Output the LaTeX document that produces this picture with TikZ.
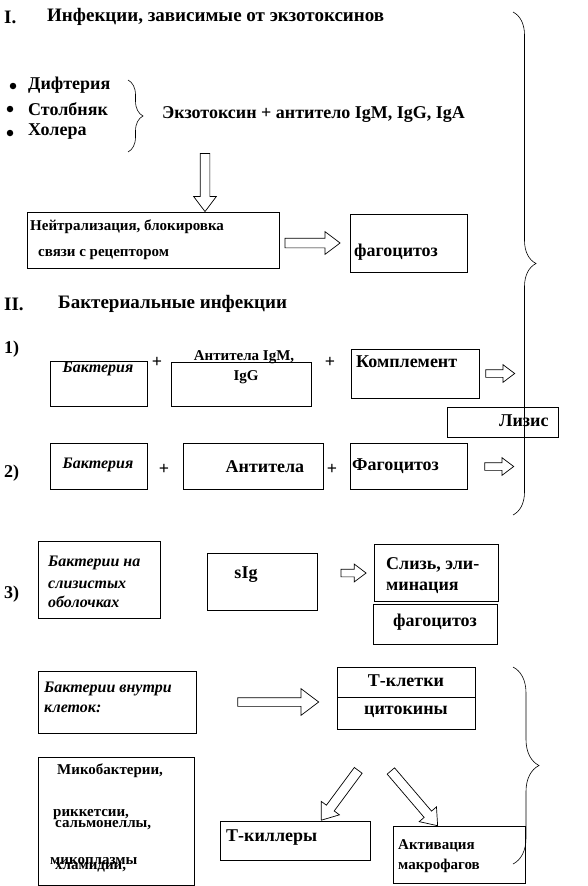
\documentclass[tikz,border=0pt]{standalone}
\usepackage{fontspec}
\setmainfont{Liberation Serif}
\usetikzlibrary{shapes.arrows,decorations.pathreplacing}
\begin{document}
\begin{tikzpicture}[
x=1pt, y=-1pt,
box/.style={draw, line width=0.7pt, inner sep=0pt},
hd/.style={inner sep=0pt, anchor=west, font=\fontsize{19}{21}\selectfont\bfseries},
lbl/.style={inner sep=0pt, anchor=west, font=\fontsize{18}{20}\selectfont\bfseries},
sml/.style={inner sep=0pt, anchor=west, font=\fontsize{15}{17}\selectfont\bfseries},
itl/.style={inner sep=0pt, anchor=west, font=\fontsize{16}{18}\selectfont\bfseries\itshape},
dot/.style={circle, fill, inner sep=0pt, minimum size=6.5pt},
harrow/.style={single arrow, draw, fill=white, line width=0.7pt,
  inner xsep=0pt, inner ysep=4.5pt, single arrow head extend=6.5pt,
  single arrow tip angle=74, minimum height=#1},
thin/.style={inner ysep=3.5pt, single arrow head extend=5pt},
curly/.style={decorate, decoration={brace, amplitude=#1}, line width=0.6pt}
]
\useasboundingbox (0,0) rectangle (588,886);

\node[hd] (n1) at (4,17) {I.};
\node[hd] (h1) at (47,17) {Инфекции, зависимые от экзотоксинов};

\node[dot] (d1) at (13,86) {};
\node[dot] (d2) at (10,109) {};
\node[dot] (d3) at (10,133) {};
\node[lbl] (dif) at (28,85) {Дифтерия};
\node[lbl] (tet) at (28,109) {Столбняк};
\node[lbl] (chol) at (28,132) {Холера};
\coordinate (bs1) at (128,80);
\coordinate (be1) at (128,152);
\draw[curly=15pt] (bs1) -- (be1);
\node[lbl] (exo) at (162,115) {Экзотоксин + антитело IgM, IgG, IgA};

\node[box, minimum width=252pt, minimum height=56pt] (neut) at (153,240.5) {};
\node[sml] (neut1) at (30,227) {Нейтрализация, блокировка};
\node[sml] (neut2) at (38,255) {связи с рецептором};
\node[box, minimum width=117pt, minimum height=58pt] (phag1) at (408.5,243) {};
\node[lbl] (phag1t) at (354,252) {фагоцитоз};
\node[harrow=58pt, rotate=-90, anchor=tip] (a1) at ([xshift=52pt]neut.north) {};
\node[harrow=55pt, anchor=tip] (a2) at ([xshift=-9pt]phag1.west) {};

\node[hd] (n2) at (4,304) {II.};
\node[hd] (h2) at (58,304) {Бактериальные инфекции};

\node[lbl] (r1) at (4,349) {1)};
\node[box, minimum width=97pt, minimum height=45pt] (bac1) at (98.5,383.5) {};
\node[itl, anchor=center] (bac1t) at (98,369) {Бактерия};
\node[lbl, anchor=center] (p1) at (157,362) {+};
\node[box, minimum width=140pt, minimum height=44pt] (ab1) at (241,384) {};
\node[sml, anchor=center] (ab1t) at (244,357) {Антитела IgM,};
\node[sml, anchor=center] (ab1g) at (246,377) {IgG};
\node[lbl, anchor=center] (p2) at (330,362) {+};
\node[box, minimum width=128pt, minimum height=49pt] (komp) at (415,373.5) {};
\node[lbl] (kompt) at (356,362) {Комплемент};
\node[harrow=29pt, thin, anchor=tail] (a3) at ([xshift=6pt]komp.east) {};
\node[box, minimum width=111pt, minimum height=30pt] (lys) at (502.5,422) {};
\node[lbl] (lyst) at (499,421) {Лизис};

\node[lbl] (r2) at (4,473) {2)};
\node[box, minimum width=97pt, minimum height=46pt] (bac2) at (98.5,466.5) {};
\node[itl, anchor=center] (bac2t) at (98,465) {Бактерия};
\node[lbl, anchor=center] (p3) at (164,469) {+};
\node[box, minimum width=140pt, minimum height=46pt] (ab2) at (253,466.5) {};
\node[lbl, anchor=center] (ab2t) at (265,467) {Антитела};
\node[lbl, anchor=center] (p4) at (332,469) {+};
\node[box, minimum width=117pt, minimum height=46pt] (phag2) at (408.5,466.5) {};
\node[lbl] (phag2t) at (352,466) {Фагоцитоз};
\node[harrow=29pt, thin, anchor=tail] (a4) at ([xshift=17pt]phag2.east) {};

\coordinate (bs2) at (513,12);
\coordinate (be2) at (513,515);
\draw[curly=23pt] (bs2) -- (be2);

\node[lbl] (r3) at (4,594) {3)};
\node[box, minimum width=122pt, minimum height=77pt] (muc) at (99,579.5) {};
\node[itl] (muc1) at (48,563) {Бактерии на};
\node[itl] (muc2) at (48,585) {слизистых};
\node[itl] (muc3) at (48,602) {оболочках};
\node[box, minimum width=110pt, minimum height=57pt] (sig) at (262,581.5) {};
\node[lbl, anchor=center] (sigt) at (246,575) {sIg};
\node[box, minimum width=124pt, minimum height=57pt] (slime) at (436,573) {};
\node[lbl] (slime1) at (386,565) {Слизь, эли-};
\node[lbl] (slime2) at (386,588) {минация};
\node[harrow=25pt, thin, anchor=tip] (a5) at ([xshift=-7pt]slime.west) {};
\node[box, minimum width=124pt, minimum height=40pt] (phag3) at (435,624) {};
\node[lbl, anchor=center] (phag3t) at (435,622) {фагоцитоз};

\node[box, minimum width=158pt, minimum height=62pt] (intra) at (117,702) {};
\node[itl] (intra1) at (44,689) {Бактерии внутри};
\node[itl] (intra2) at (44,709) {клеток:};
\node[box, minimum width=138pt, minimum height=30pt] (tcell) at (406,682) {};
\node[lbl, anchor=center] (tcellt) at (406,681) {Т-клетки};
\node[box, minimum width=138pt, minimum height=32pt] (cyto) at (406,713) {};
\node[lbl, anchor=center] (cytot) at (406,712) {цитокины};
\node[harrow=81pt, inner ysep=4pt, single arrow head extend=9pt, anchor=tail] (a6) at ([xshift=41pt]intra.east) {};

\node[box, minimum width=156pt, minimum height=128pt] (myco) at (116,821) {};
\node[sml] (myco1) at (57,771) {Микобактерии,};
\node[sml] (myco2) at (53,815) {риккетсии,};
\node[sml] (myco3) at (55,825) {сальмонеллы,};
\node[sml] (myco4) at (50,861) {микоплазмы};
\node[sml] (myco5) at (55,867) {хламидии,};

\node[box, minimum width=150pt, minimum height=39pt] (tkill) at (295,840.5) {};
\node[lbl] (tkillt) at (226,838) {Т-киллеры};
\node[box, minimum width=132pt, minimum height=57pt] (macro) at (459,855) {};
\node[sml] (macro1) at (398,846) {Активация};
\node[sml] (macro2) at (398,866) {макрофагов};
\node[harrow=62pt, rotate=-126.5, anchor=tip] (a7) at ([xshift=26pt]tkill.north) {};
\node[harrow=72pt, rotate=-49.5, anchor=tip] (a8) at ([xshift=-21pt]macro.north) {};

\coordinate (bs3) at (513,667);
\coordinate (be3) at (513,864);
\draw[curly=26pt] (bs3) -- (be3);

\end{tikzpicture}
\end{document}
